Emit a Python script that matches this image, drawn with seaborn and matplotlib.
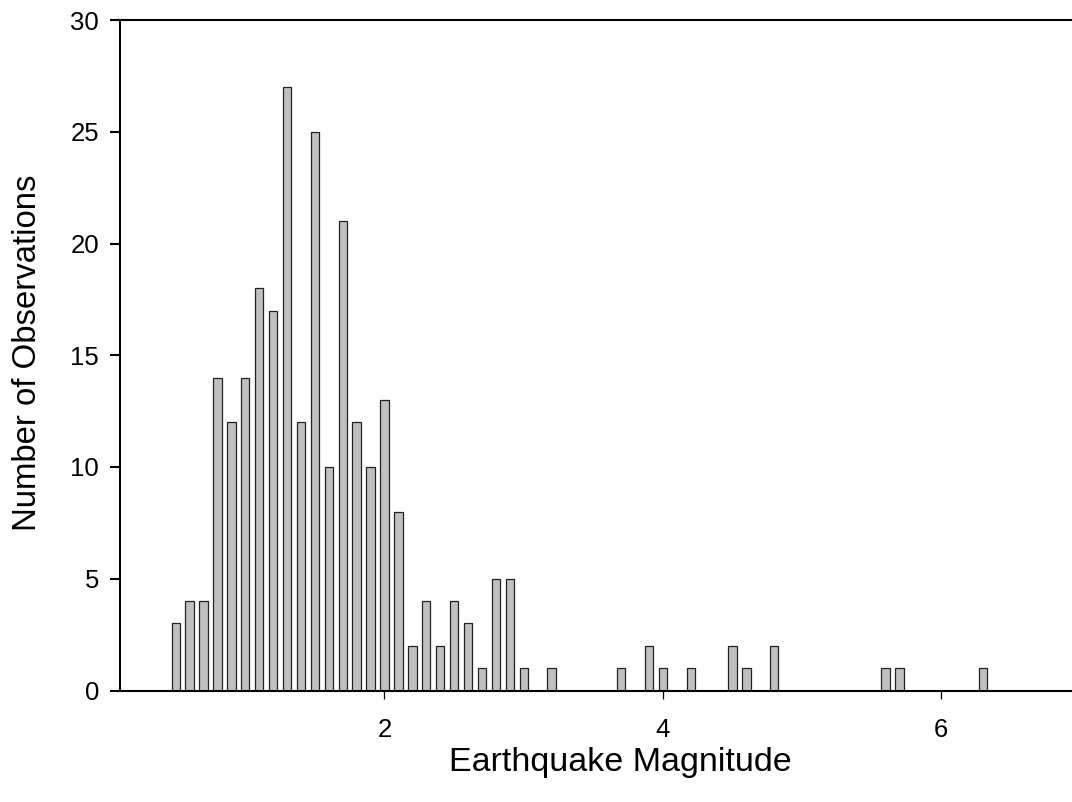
import matplotlib
matplotlib.use("Agg")
import matplotlib.pyplot as plt
import seaborn as sns
import pandas as pd

magnitude = [0.5, 0.6, 0.7, 0.8, 0.9, 1.0, 1.1, 1.2, 1.3, 1.4, 1.5, 1.6, 1.7, 1.8, 1.9,
             2.0, 2.1, 2.2, 2.3, 2.4, 2.5, 2.6, 2.7, 2.8, 2.9, 3.0, 3.2, 3.7, 3.9, 4.0,
             4.2, 4.5, 4.6, 4.8, 5.6, 5.7, 6.3]
observations = [3, 4, 4, 14, 12, 14, 18, 17, 27, 12, 25, 10, 21, 12, 10,
                13, 8, 2, 4, 2, 4, 3, 1, 5, 5, 1, 1, 1, 2, 1,
                1, 2, 1, 2, 1, 1, 1]
x_ticks = [2, 4, 6]
y_ticks = [0, 5, 10, 15, 20, 25, 30]

sns.set_theme(style="ticks")
plt.rcParams["font.family"] = ["Liberation Sans", "DejaVu Sans"]
plt.rcParams["text.color"] = "black"
plt.rcParams["axes.labelcolor"] = "black"

df = pd.DataFrame({"mag": magnitude, "n": observations})

W, H = 1072, 802
fig = plt.figure(figsize=(W / 100, H / 100), dpi=100)
left, right, bottom, top = 120, 1080.5, 690.5, 20
ax = fig.add_axes([left / W, 1 - bottom / H, (right - left) / W, (bottom - top) / H])

sns.barplot(data=df, x="mag", y="n", native_scale=True, width=0.6,
            color="#c0c0c0", saturation=1, edgecolor="#222222", linewidth=0.9, ax=ax)

ax.set_xlim(0.1, 7.0)
ax.set_ylim(0, 30)
ax.set_xticks(x_ticks)
ax.set_xticklabels([str(t) for t in x_ticks])
ax.set_yticks(y_ticks)
ax.set_yticklabels([str(t) for t in y_ticks])

for s in ["left", "bottom", "top"]:
    ax.spines[s].set_linewidth(1.5)
    ax.spines[s].set_color("black")
ax.spines["right"].set_visible(False)

ax.tick_params(axis="y", direction="out", length=7.2, width=1.5, pad=8, labelsize=18.5,
               colors="black")
ax.tick_params(axis="x", direction="out", length=6, width=0.9, pad=14, labelsize=18.5,
               colors="black")

ax.set_xlabel("Earthquake Magnitude", fontsize=24.5)
ax.set_ylabel("Number of Observations", fontsize=23.7)
ax.xaxis.set_label_coords((620 - left) / (right - left), -0.085)
ax.yaxis.set_label_coords(-(left - 43) / (right - left), 1 - (353 - top) / (bottom - top))

fig.savefig("out.png", dpi=100)
